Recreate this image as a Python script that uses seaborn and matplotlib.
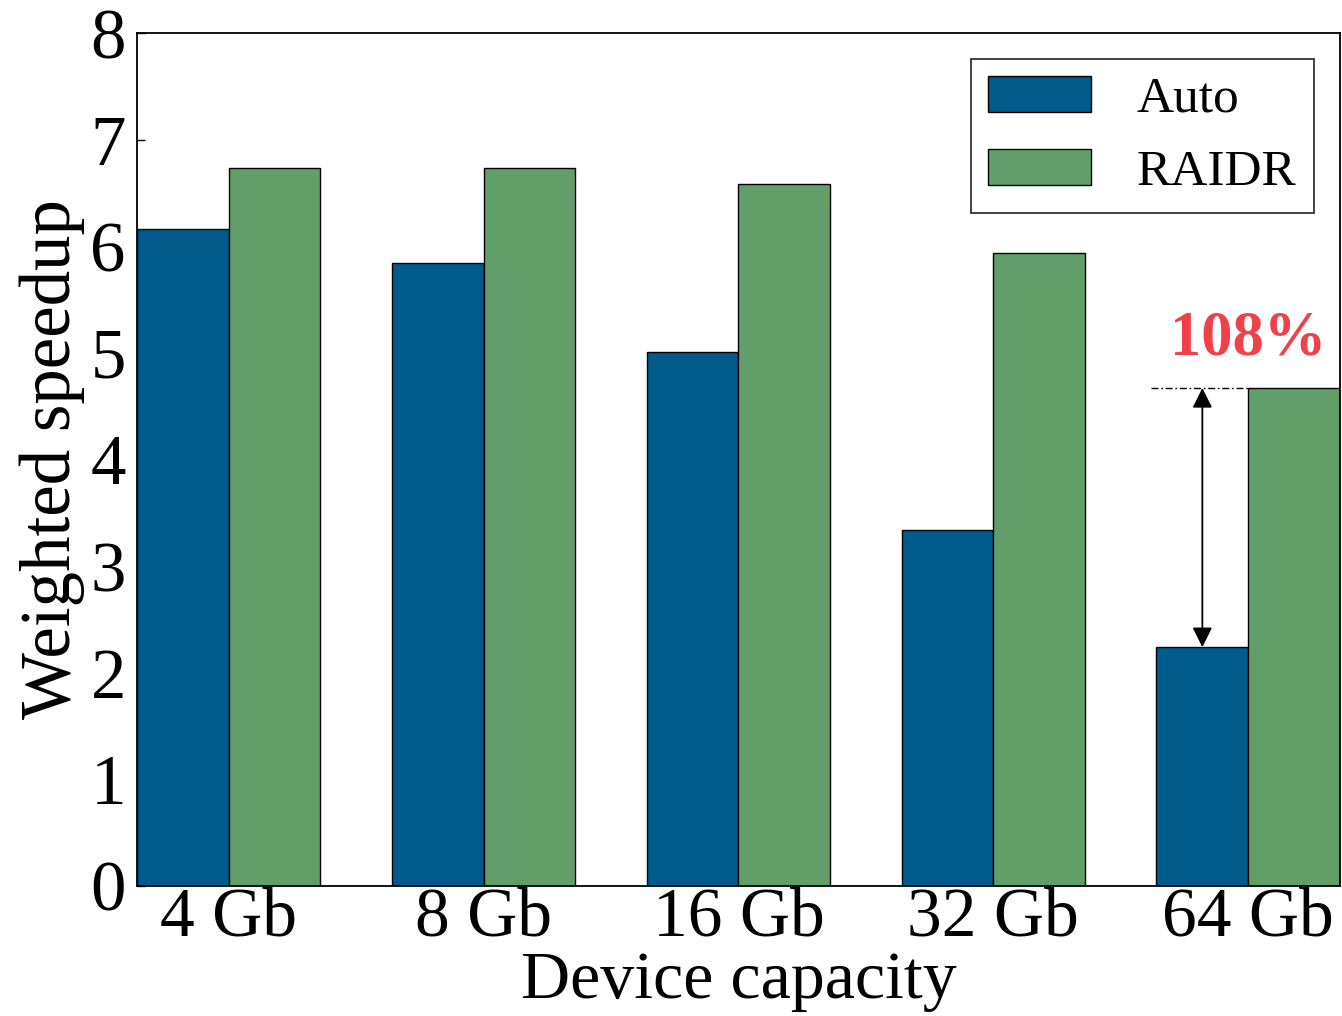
import matplotlib
matplotlib.use("Agg")
import matplotlib.pyplot as plt
import seaborn as sns
import pandas as pd

categories = ["4 Gb", "8 Gb", "16 Gb", "32 Gb", "64 Gb"]
auto_vals = [6.16, 5.84, 5.01, 3.34, 2.24]
raidr_vals = [6.73, 6.73, 6.58, 5.94, 4.67]
series = ["Auto", "RAIDR"]
colors = ["#005a8c", "#629e6a"]

df = pd.DataFrame({
    "cap": categories * 2,
    "val": auto_vals + raidr_vals,
    "sys": [series[0]] * 5 + [series[1]] * 5,
})

sns.set_theme(style="white")
plt.rcParams["font.family"] = ["Liberation Serif", "DejaVu Serif"]
plt.rcParams["text.color"] = "black"
plt.rcParams["axes.labelcolor"] = "black"
plt.rcParams["xtick.color"] = "black"
plt.rcParams["ytick.color"] = "black"

fig = plt.figure(figsize=(13.42, 10.16), dpi=100)
ax = fig.add_axes([0.102, 0.128, 0.8965, 0.8395])

sns.barplot(data=df, x="cap", y="val", hue="sys", order=categories,
            hue_order=series, palette=colors, width=0.72, gap=0,
            saturation=1, edgecolor="black", linewidth=1.0, ax=ax,
            errorbar=None)

ax.set_xlim(-0.36, 4.36)
ax.set_ylim(0, 8)
ax.set_yticks(range(0, 9))
ax.set_xlabel("Device capacity", fontsize=49, labelpad=0)
ax.set_ylabel("Weighted speedup", fontsize=51, labelpad=4)
ax.tick_params(axis="y", direction="in", length=6, width=1, labelsize=51,
               left=True, pad=8)
ax.tick_params(axis="x", length=0, labelsize=50, pad=1)
for s in ax.spines.values():
    s.set_color("black")
    s.set_linewidth(1.3)

# annotation for 64 Gb
x64 = 4
ax.plot([x64 - 0.38, x64], [raidr_vals[4], raidr_vals[4]], color="black",
        linestyle=(0, (5, 2, 1.2, 2)), linewidth=1.0)
ax.annotate("", xy=(x64 - 0.18, raidr_vals[4]), xytext=(x64 - 0.18, auto_vals[4]),
            arrowprops=dict(arrowstyle="<|-|>", color="black", lw=1.3,
                            mutation_scale=30, shrinkA=0, shrinkB=0))
ax.text(x64, raidr_vals[4] + 0.18, "108%", color="#f0404a", fontsize=45,
        fontweight="bold", ha="center", va="bottom")

leg = ax.legend(loc="upper right", bbox_to_anchor=(0.978, 0.970),
                borderaxespad=0, fontsize=37, frameon=True, fancybox=False,
                edgecolor="black", handlelength=2.0, handleheight=0.72,
                labelspacing=0.5, handletextpad=0.9, borderpad=0.33,
                title=None)
leg.get_frame().set_linewidth(1.3)

fig.savefig("out.png", dpi=100)
